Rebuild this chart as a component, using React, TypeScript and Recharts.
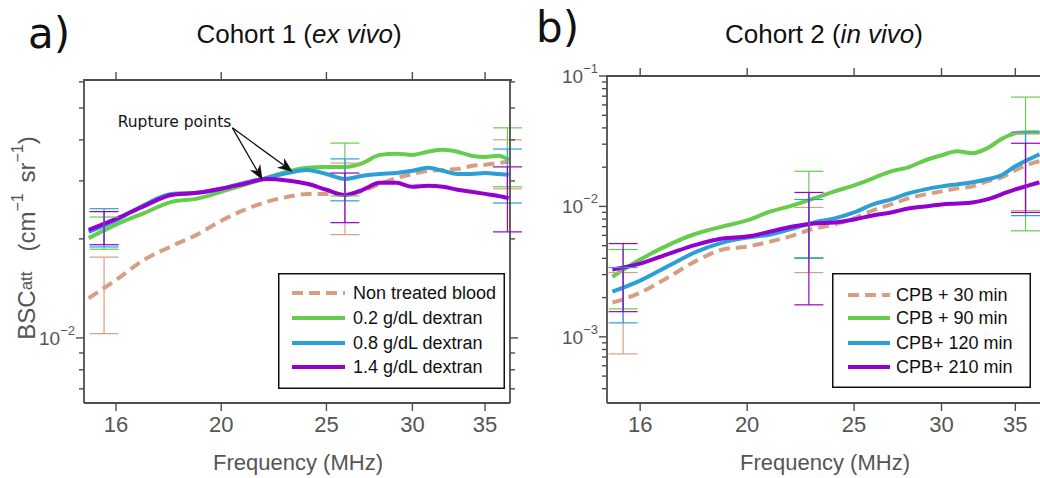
import React from 'react';
import { ComposedChart, Line, Scatter, ErrorBar, XAxis, YAxis, ReferenceLine } from 'recharts';

// frequency grid (MHz), same for both cohorts
const FREQ = [15.1, 16, 17, 18, 19, 20, 21, 22, 23, 24, 25, 26, 27, 28, 29, 30, 31, 32, 33, 34, 35, 36, 36.8];
const X_TICKS = [16, 20, 25, 30, 35];

// cohort 1 (ex vivo), BSCatt in cm^-1 sr^-1
const NON_TREATED = [0.0132, 0.015, 0.0173, 0.019, 0.0206, 0.0227, 0.0245, 0.0259, 0.0268, 0.0274, 0.0274, 0.0272, 0.028, 0.0294, 0.0306, 0.0315, 0.0322, 0.0324, 0.0326, 0.0333, 0.0336, 0.034, 0.0343];
const DEX_02 = [0.0201, 0.0221, 0.024, 0.0259, 0.0265, 0.0278, 0.0292, 0.0306, 0.032, 0.0329, 0.0331, 0.0331, 0.034, 0.036, 0.0363, 0.036, 0.0368, 0.0373, 0.0368, 0.0358, 0.0355, 0.0358, 0.0348];
const DEX_08 = [0.021, 0.0228, 0.0254, 0.0274, 0.0276, 0.0284, 0.0296, 0.0306, 0.0317, 0.0324, 0.0315, 0.0304, 0.0311, 0.0315, 0.0317, 0.0322, 0.0329, 0.0322, 0.0315, 0.0315, 0.0317, 0.0315, 0.0313];
const DEX_14 = [0.0213, 0.023, 0.0252, 0.0272, 0.0276, 0.0284, 0.0294, 0.0304, 0.0301, 0.0294, 0.0282, 0.0272, 0.0282, 0.0296, 0.0296, 0.0288, 0.029, 0.0288, 0.0282, 0.0278, 0.0274, 0.027, 0.0266];

// error bars cohort 1: [low, high] at each ERR_FREQ_A
const ERR_FREQ_A = [15.6, 26, 36.7];
const NON_TREATED_ERR = [[0.0103, 0.0176], [0.0206, 0.034], [0.0284, 0.04]];
const DEX_02_ERR = [[0.0186, 0.0233], [0.027, 0.0391], [0.0288, 0.0435]];
const DEX_08_ERR = [[0.0189, 0.0247], [0.0261, 0.035], [0.0257, 0.0375]];
const DEX_14_ERR = [[0.0192, 0.0242], [0.0224, 0.0317], [0.021, 0.0331]];

// cohort 2 (in vivo)
const CPB_30 = [0.00183, 0.00218, 0.00289, 0.00384, 0.00467, 0.00492, 0.00538, 0.00598, 0.00677, 0.00727, 0.00809, 0.00932, 0.01036, 0.01152, 0.01237, 0.01304, 0.01375, 0.01425, 0.01557, 0.01672, 0.01892, 0.02104, 0.0222];
const CPB_90 = [0.00289, 0.00391, 0.0051, 0.0062, 0.00702, 0.00781, 0.00915, 0.01018, 0.01152, 0.01304, 0.0145, 0.01642, 0.01859, 0.01995, 0.02259, 0.02468, 0.02649, 0.0256, 0.02793, 0.0328, 0.03643, 0.03709, 0.03709];
const CPB_120 = [0.00222, 0.0027, 0.00352, 0.0045, 0.00528, 0.00577, 0.00609, 0.00677, 0.00753, 0.00809, 0.00899, 0.01036, 0.01132, 0.01259, 0.01351, 0.01425, 0.01476, 0.0153, 0.01614, 0.01732, 0.02031, 0.02299, 0.02512];
const CPB_210 = [0.00328, 0.00364, 0.00435, 0.0051, 0.00567, 0.00588, 0.00642, 0.00702, 0.0074, 0.00753, 0.00794, 0.00853, 0.00899, 0.00965, 0.01, 0.01036, 0.01054, 0.01073, 0.01132, 0.01237, 0.01351, 0.0145, 0.0153];

const ERR_FREQ_B = [15.44, 22.75, 35.75];
const CPB_30_ERR = [[0.00074, 0.00311], [0.00311, 0.00982], [0.0093, 0.036]];
const CPB_90_ERR = [[0.00164, 0.00467], [0.00405, 0.0186], [0.0065, 0.0689]];
const CPB_120_ERR = [[0.00128, 0.0034], [0.004, 0.0113], [0.0085, 0.0371]];
const CPB_210_ERR = [[0.00156, 0.00519], [0.00176, 0.0128], [0.009, 0.0305]];

// y ticks
const A_MAJOR = [0.01];
const A_TICKS = [0.007, 0.008, 0.009, 0.01, 0.02, 0.03, 0.04, 0.05, 0.06];
const B_MAJOR = [0.001, 0.01, 0.1];
const B_TICKS = [0.0004, 0.0005, 0.0006, 0.0007, 0.0008, 0.0009, 0.001, 0.002, 0.003, 0.004, 0.005, 0.006, 0.007, 0.008, 0.009, 0.01, 0.02, 0.03, 0.04, 0.05, 0.06, 0.07, 0.08, 0.09, 0.1];

// annotation (data coords)
const RUPTURE_FROM = { x: 20.48, y: 0.0435 };
const RUPTURE_TO = [{ x: 21.83, y: 0.0302 }, { x: 23.27, y: 0.032 }];

const BROWN = '#d69f83';
const GREEN = '#66cc4e';
const BLUE = '#2b9fd6';
const PURPLE = '#9400d0';
const AX = '#4d4d4d';
const TXT = '#555';
const FONT = '"Liberation Sans", Arial, sans-serif';

type Series = { key: string; name: string; values: number[]; err: number[][]; color: string; dash?: string };

const SERIES_A: Series[] = [
  { key: 'nt', name: 'Non treated blood', values: NON_TREATED, err: NON_TREATED_ERR, color: BROWN, dash: '11 6' },
  { key: 'd02', name: '0.2 g/dL dextran', values: DEX_02, err: DEX_02_ERR, color: GREEN },
  { key: 'd08', name: '0.8 g/dL dextran', values: DEX_08, err: DEX_08_ERR, color: BLUE },
  { key: 'd14', name: '1.4 g/dL dextran', values: DEX_14, err: DEX_14_ERR, color: PURPLE },
];
const SERIES_B: Series[] = [
  { key: 'c30', name: 'CPB + 30 min', values: CPB_30, err: CPB_30_ERR, color: BROWN, dash: '11 6' },
  { key: 'c90', name: 'CPB + 90 min', values: CPB_90, err: CPB_90_ERR, color: GREEN },
  { key: 'c120', name: 'CPB+ 120 min', values: CPB_120, err: CPB_120_ERR, color: BLUE },
  { key: 'c210', name: 'CPB+ 210 min', values: CPB_210, err: CPB_210_ERR, color: PURPLE },
];

const expo = (v: number) => String(Math.round(Math.log10(v))).replace('-', '\u2212');

const LeftTick = (p: any) => {
  const major = p.majors.includes(p.payload.value);
  const len = major ? 8 : 5;
  return (
    <g>
      <line x1={p.x} y1={p.y} x2={p.x - len} y2={p.y} stroke={AX} strokeWidth={1.4} />
      {major && (
        <text x={p.x - len - 1} y={p.y + 7} textAnchor="end" fill={TXT} fontSize={19} fontFamily={FONT}>
          10<tspan dy={-10} fontSize={13}>{expo(p.payload.value)}</tspan>
        </text>
      )}
    </g>
  );
};
const RightTick = (p: any) => {
  const len = p.majors.includes(p.payload.value) ? 8 : 5;
  return <line x1={p.x} y1={p.y} x2={p.x + len} y2={p.y} stroke={AX} strokeWidth={1.4} />;
};
const BottomTick = (p: any) => (
  <g>
    <line x1={p.x} y1={p.y} x2={p.x} y2={p.y + 8} stroke={AX} strokeWidth={1.4} />
    <text x={p.x} y={p.y + 29} textAnchor="middle" fill={TXT} fontSize={22} fontFamily={FONT}>{p.payload.value}</text>
  </g>
);
// top tick: short mark above the plot's upper edge
const TopMark = (p: any) => {
  const top = Math.min(p.y1, p.y2);
  return <line x1={p.x1} y1={top} x2={p.x1} y2={top - 8} stroke={AX} strokeWidth={1.4} />;
};

const NoDot = () => <g />;

const Arrow = (p: any) => {
  const { x1, y1, x2, y2, text } = p;
  const a = Math.atan2(y2 - y1, x2 - x1);
  const L = 15, W = 6;
  const c = Math.cos(a), s = Math.sin(a);
  const bx = x2 - L * c, by = y2 - L * s;
  const nx = x2 - L * 0.7 * c, ny = y2 - L * 0.7 * s;
  const pts = `${x2},${y2} ${bx + W * s},${by - W * c} ${nx},${ny} ${bx - W * s},${by + W * c}`;
  return (
    <g>
      <line x1={x1} y1={y1} x2={nx} y2={ny} stroke="#111" strokeWidth={1.3} />
      <polygon points={pts} fill="#111" />
      {text && (
        <text x={x1 - 1} y={y1 - 1} textAnchor="end" fill="#111" fontSize={15.5} fontFamily='"DejaVu Sans", sans-serif'>{text}</text>
      )}
    </g>
  );
};

function Panel({ series, errFreq, xDomain, yDomain, yTicks, yMajor, margin, yAxisWidth, annotate }: any) {
  const rows = FREQ.map((f, i) => {
    const r: any = { f };
    series.forEach((s: Series) => { r[s.key] = s.values[i]; });
    return r;
  });
  const axisLine = { stroke: AX, strokeWidth: 1.8 };
  const common = { type: 'number' as const, scale: 'log' as const, allowDataOverflow: true, interval: 0, tickSize: 0, tickMargin: 0, tickLine: false, axisLine };
  return (
    <ComposedChart width={530} height={478} data={rows} margin={margin}>
      <XAxis {...common} dataKey="f" domain={xDomain} ticks={X_TICKS} tick={BottomTick} height={75} />
      <YAxis {...common} domain={yDomain} ticks={yTicks} tick={(p: any) => <LeftTick {...p} majors={yMajor} />} width={yAxisWidth} />
      <YAxis {...common} yAxisId="right" orientation="right" domain={yDomain} ticks={yTicks} tick={(p: any) => <RightTick {...p} majors={yMajor} />} width={1} />
      {X_TICKS.map((t) => (
        <ReferenceLine key={'top' + t} x={t} ifOverflow="visible" shape={TopMark} />
      ))}
      {series.map((s: Series) => (
        <Line key={s.key} dataKey={s.key} type="monotone" stroke={s.color} strokeWidth={4} strokeDasharray={s.dash} dot={false} activeDot={false} isAnimationActive={false} />
      ))}
      {series.map((s: Series) => (
        <Scatter
          key={s.key + '-err'}
          data={errFreq.map((f: number, i: number) => ({ f, lo: s.err[i][0], span: [0, s.err[i][1] - s.err[i][0]] }))}
          dataKey="lo"
          shape={NoDot}
          legendType="none"
          isAnimationActive={false}
        >
          <ErrorBar dataKey="span" direction="y" width={14.5} stroke={s.color} strokeWidth={1.2} isAnimationActive={false} />
        </Scatter>
      ))}
      {annotate && (
        <ReferenceLine segment={[RUPTURE_FROM, RUPTURE_TO[0]]} ifOverflow="visible" shape={(p: any) => <Arrow {...p} text="Rupture points" />} />
      )}
      {annotate && (
        <ReferenceLine segment={[RUPTURE_FROM, RUPTURE_TO[1]]} ifOverflow="visible" shape={(p: any) => <Arrow {...p} />} />
      )}
    </ComposedChart>
  );
}

function LegendBox({ series, left, top, width, height, x0, x1, tx, rows }: any) {
  return (
    <svg style={{ position: 'absolute', left, top }} width={width} height={height}>
      <rect x={0.75} y={0.75} width={width - 1.5} height={height - 1.5} fill="#fff" stroke="#111" strokeWidth={1.5} />
      {series.map((s: Series, i: number) => (
        <g key={s.key}>
          <line x1={x0} x2={x1} y1={rows[i]} y2={rows[i]} stroke={s.color} strokeWidth={4} strokeDasharray={s.dash} />
          <text x={tx} y={rows[i] + 6} fill="#111" fontSize={18} fontFamily={FONT}>{s.name}</text>
        </g>
      ))}
    </svg>
  );
}

export default function App() {
  return (
    <div style={{ position: 'absolute', left: 0, top: 0, width: 1040, height: 478, overflow: 'hidden', background: '#fff' }}>
      <div style={{ position: 'absolute', left: 0, top: 0 }}>
        <Panel series={SERIES_A} errFreq={ERR_FREQ_A} xDomain={[14.95, 36.9]} yDomain={[0.00634, 0.0608]} yTicks={A_TICKS} yMajor={A_MAJOR}
          margin={{ top: 80, right: 19, bottom: 0, left: 0 }} yAxisWidth={84} annotate />
      </div>
      <div style={{ position: 'absolute', left: 530, top: 0 }}>
        <Panel series={SERIES_B} errFreq={ERR_FREQ_B} xDomain={[14.93, 37]} yDomain={[0.000311, 0.1]} yTicks={B_TICKS} yMajor={B_MAJOR}
          margin={{ top: 76, right: 17, bottom: 0, left: 0 }} yAxisWidth={77} />
      </div>
      <LegendBox series={SERIES_A} left={278} top={273} width={227} height={116} x0={14} x1={67} tx={75} rows={[20, 45, 70, 94]} />
      <LegendBox series={SERIES_B} left={832} top={273} width={199} height={115} x0={16} x1={58} tx={64} rows={[22, 45, 70, 94]} />
      <svg style={{ position: 'absolute', left: 0, top: 0, pointerEvents: 'none' }} width={1040} height={478}>
        {/* upper frame edges of both plot boxes */}
        <path d="M83.1,80H511.9" stroke={AX} strokeWidth={1.8} fill="none" />
        <path d="M606.1,76H1040" stroke={AX} strokeWidth={1.8} fill="none" />
        <text x={28} y={48} fontSize={42} fill="#111" fontFamily='"DejaVu Sans", sans-serif'>a)</text>
        <text x={536} y={42} fontSize={42} fill="#111" fontFamily='"DejaVu Sans", sans-serif'>b)</text>
        <text x={299} y={43} textAnchor="middle" fontSize={26} fill="#111" fontFamily={FONT}>
          Cohort 1 (<tspan fontStyle="italic">ex vivo</tspan>)
        </text>
        <text x={824} y={43} textAnchor="middle" fontSize={26} fill="#111" fontFamily={FONT}>
          Cohort 2 (<tspan fontStyle="italic">in vivo</tspan>)
        </text>
        <text x={298} y={470} textAnchor="middle" fontSize={22} fill={TXT} fontFamily={FONT}>Frequency (MHz)</text>
        <text x={825} y={470} textAnchor="middle" fontSize={22} fill={TXT} fontFamily={FONT}>Frequency (MHz)</text>
        <text x={26} y={238} transform="rotate(-90 26 238)" textAnchor="middle" dominantBaseline="central" fontSize={24} fill={TXT} fontFamily={FONT}>
          BSC<tspan fontSize={17}>att</tspan>
          <tspan dx={20}>(cm</tspan>
          <tspan fontSize={16} dy={-9}>{'\u22121'}</tspan>
          <tspan dy={9} dx={4}> sr</tspan>
          <tspan fontSize={16} dy={-9}>{'\u22121'}</tspan>
          <tspan dy={9}>)</tspan>
        </text>
      </svg>
    </div>
  );
}
